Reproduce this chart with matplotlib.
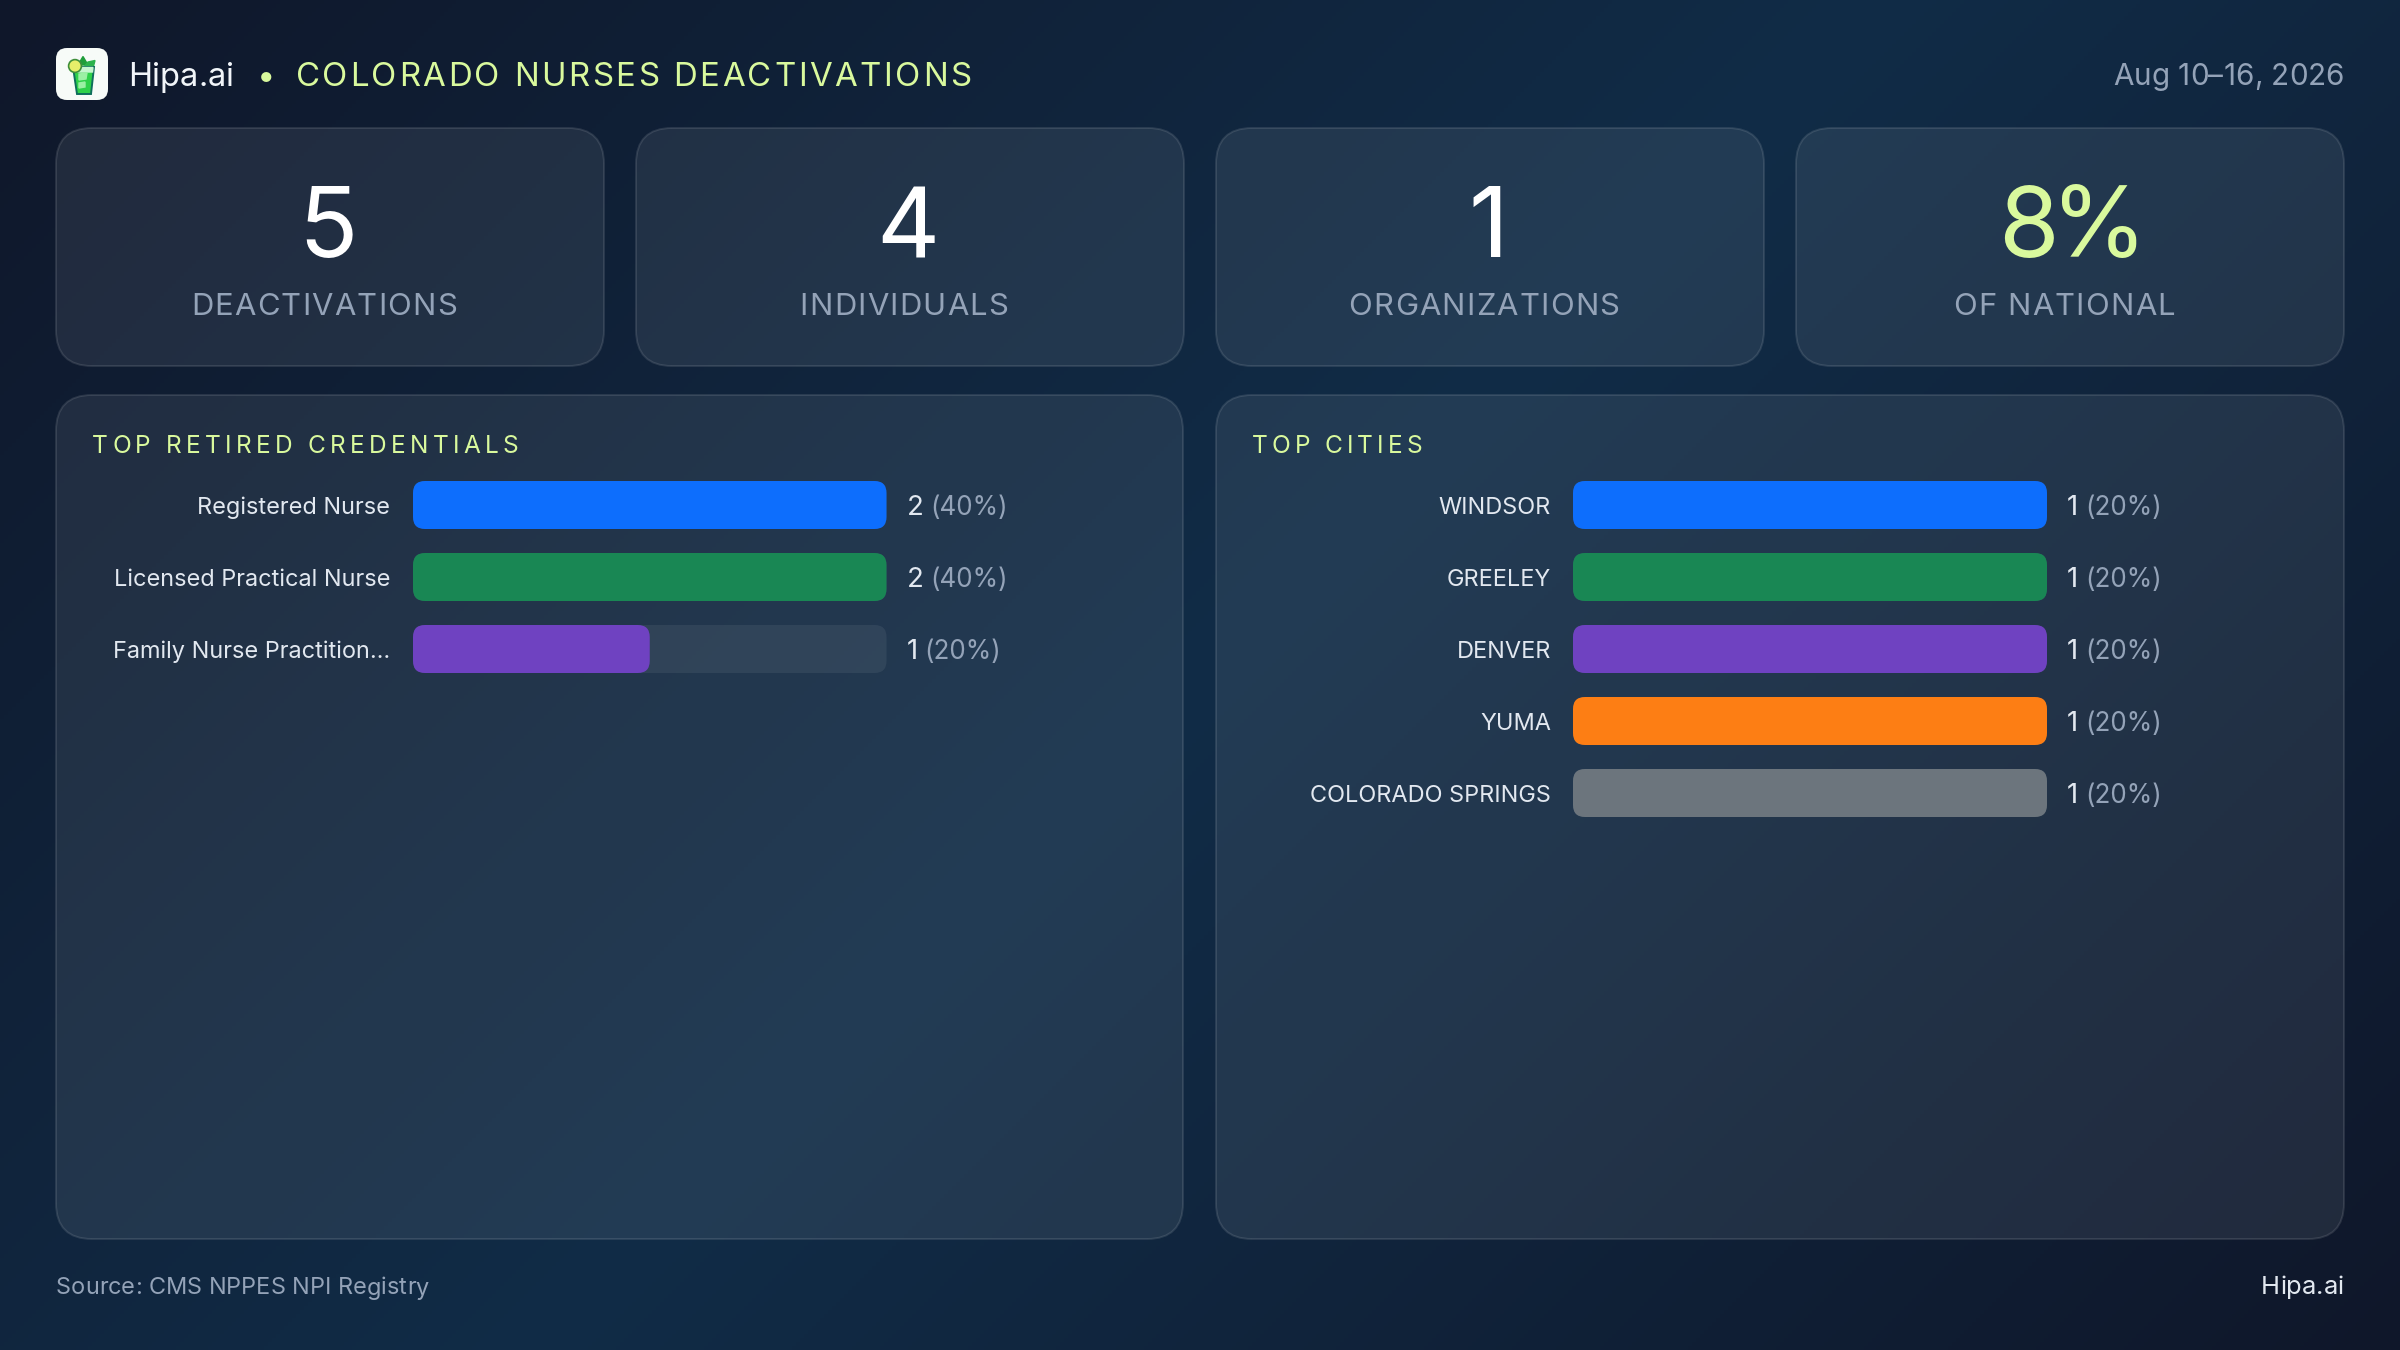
#!/usr/bin/env python3
"""Weekly deactivations dashboard card for Colorado nurses."""

import matplotlib

matplotlib.use("Agg")

import matplotlib.pyplot as plt
import numpy as np
from matplotlib.colors import LinearSegmentedColormap
from matplotlib.patches import Circle, FancyBboxPatch, Polygon
from matplotlib.text import Text
from matplotlib.transforms import IdentityTransform

W, H = 2400, 1350

KPI_VALUES = ["5", "4", "1", "8%"]
KPI_LABELS = ["DEACTIVATIONS", "INDIVIDUALS", "ORGANIZATIONS", "OF NATIONAL"]

CREDENTIALS = ["Registered Nurse", "Licensed Practical Nurse", "Family Nurse Practition…"]
CREDENTIAL_COUNTS = [2, 2, 1]
CREDENTIAL_PCTS = [40, 40, 20]

CITIES = ["WINDSOR", "GREELEY", "DENVER", "YUMA", "COLORADO SPRINGS"]
CITY_COUNTS = [1, 1, 1, 1, 1]
CITY_PCTS = [20, 20, 20, 20, 20]

BAR_COLORS = ["#0d6efd", "#198754", "#6f42c1", "#fd7e14", "#6c757d"]
LIME = "#d9f99d"
MUTED = "#94a3b8"
SOFT = "#e2e8f0"

plt.rcParams["font.family"] = ["Inter", "DejaVu Sans"]


def px(size):
    return size * 72 / 100


class TrackedText(Text):
    """Text with CSS style letter spacing, still one artist with one string."""

    def __init__(self, *args, tracking=0, **kwargs):
        super().__init__(*args, **kwargs)
        self.tracking = tracking

    def draw(self, renderer):
        text = self.get_text()
        x, y = self.get_transform().transform(self.get_position())
        props = self.get_fontproperties()
        width = lambda s: renderer.get_text_width_height_descent(s, props, False)[0]
        total = width(text) + self.tracking * len(text)
        start = {"left": x, "center": x - total / 2, "right": x - total}[self.get_ha()]
        old_pos, old_ha, old_tr = self.get_position(), self.get_ha(), self.get_transform()
        self.set_transform(IdentityTransform())
        self.set_ha("left")
        for i, ch in enumerate(text):
            if ch == " ":
                continue
            offset = width(text[: i + 1]) - width(ch) + self.tracking * i
            self._text = ch
            self.set_position((start + offset, y))
            Text.draw(self, renderer)
        self._text = text
        self.set_position(old_pos)
        self.set_ha(old_ha)
        self.set_transform(old_tr)


def panel(ax, x0, y0, x1, y1, radius=36):
    ax.add_patch(
        FancyBboxPatch(
            (x0, y0), x1 - x0, y1 - y0,
            boxstyle=f"round,pad=0,rounding_size={radius}",
            facecolor=(1, 1, 1, 0.08),
            edgecolor=(1, 1, 1, 0.11),
            linewidth=1.4,
        )
    )


def label(ax, x, y, text, size, color, ha="left", tracking=0):
    ax.add_artist(
        TrackedText(
            x, y, text, tracking=tracking, fontsize=px(size), color=color,
            ha=ha, va="baseline", transform=ax.transData,
        )
    )


def draw_logo(ax):
    ax.add_patch(
        FancyBboxPatch(
            (56, 48), 52, 52, boxstyle="round,pad=0,rounding_size=11",
            facecolor="#f7fbf8", edgecolor="none",
        )
    )
    ax.add_patch(Polygon([(78, 65), (83, 56.5), (88, 65)], color="#1f9d3a"))
    ax.add_patch(Polygon([(84, 67), (88, 62), (95, 60.5), (93, 68)], color="#2bb24c"))
    ax.add_patch(
        Polygon([(73, 67), (94, 67), (91, 94), (77, 94)], facecolor="#2fd14a", edgecolor="#0f6e5c", linewidth=1.4)
    )
    ax.add_patch(Polygon([(74, 67.5), (93, 67.5), (92.5, 72), (74.5, 72)], color="#c6f5cf"))
    ax.add_patch(Polygon([(79, 74), (87, 73), (86, 79), (79, 80)], color="#9bf0a4"))
    ax.add_patch(Polygon([(79, 83), (85, 82), (85, 87), (79, 88)], color="#9bf0a4"))
    ax.add_patch(Circle((75, 66), 6.4, facecolor="#e6ee6a", edgecolor="#3f8f3a", linewidth=1.2))


def draw_bars(fig, left, right, top, names, counts, pcts, gap):
    """One axes per chart, a row is 72 px tall and the bars are 48 px."""
    n = len(names)
    ax = fig.add_axes(
        [left / W, 1 - (top + 72 * n) / H, (right - left) / W, 72 * n / H],
        zorder=2,
    )
    ax.patch.set_alpha(0)
    for side in ax.spines.values():
        side.set_visible(False)
    ax.xaxis.set_visible(False)
    top_count = max(counts)
    ax.set_xlim(0, top_count)
    ax.set_ylim(n - 0.5, -0.5)
    rows = np.arange(n)
    ax.set_yticks(rows, names, fontsize=px(23.5), color=SOFT)
    ax.tick_params(axis="y", length=0, pad=px(gap))

    tracks = ax.barh(rows, [top_count] * n, height=48 / 72, color=(1, 1, 1, 0.065))
    fills = ax.barh(rows, counts, height=48 / 72, color=BAR_COLORS[:n])
    fig.canvas.draw()
    for bar in list(tracks) + list(fills):
        box = bar.get_window_extent()
        clip = FancyBboxPatch(
            (box.x0, box.y0), box.width, box.height,
            boxstyle="round,pad=0,rounding_size=12",
            transform=IdentityTransform(),
        )
        bar.set_clip_path(clip)

    for i in rows:
        count = ax.annotate(
            str(counts[i]), xy=(top_count, i), xytext=(20, -3),
            textcoords="offset pixels", fontsize=px(27.5), color=SOFT, va="center", ha="left",
        )
        ax.annotate(
            f"({pcts[i]}%)", xy=(1, 0), xycoords=count, xytext=(7, 0),
            textcoords="offset pixels", fontsize=px(26), color=MUTED, va="bottom", ha="left",
        )


def main():
    fig = plt.figure(figsize=(W / 100, H / 100), dpi=100)
    base = fig.add_axes([0, 0, 1, 1], zorder=0)
    base.set_xlim(0, W)
    base.set_ylim(H, 0)
    base.axis("off")

    # 135deg page gradient
    yy, xx = np.mgrid[0:H:4, 0:W:4]
    shade = (xx + yy) / (W + H)
    cmap = LinearSegmentedColormap.from_list("page", ["#0f172a", "#112c47", "#0f172a"])
    base.imshow(shade, cmap=cmap, vmin=0, vmax=1, extent=(0, W, H, 0), aspect="auto", zorder=0)

    draw_logo(base)
    label(base, 128, 86, "Hipa.ai", 32.5, "#f1f5f9")
    label(base, 257, 86, "•", 33, LIME)
    label(base, 295.5, 86, "COLORADO NURSES DEACTIVATIONS", 33, LIME, tracking=2.55)
    label(base, 2344, 85, "Aug 10–16, 2026", 29.7, MUTED, ha="right")

    card_left = [56, 636, 1216, 1796]
    for x0, value, text in zip(card_left, KPI_VALUES, KPI_LABELS):
        panel(base, x0, 128, x0 + 548, 366)
        is_share = value.endswith("%")
        color = LIME if is_share else "white"
        label(base, x0 + (273 if is_share else 269), 257, value, 98, color, ha="center", tracking=-8 if is_share else -6)
        label(base, x0 + 268.5, 315, text, 31, MUTED, ha="center", tracking=1.2)

    panel(base, 56, 395, 1183, 1239)
    panel(base, 1216, 395, 2344, 1239)
    label(base, 92, 453, "TOP RETIRED CREDENTIALS", 24.5, LIME, tracking=4.3)
    label(base, 1252, 453, "TOP CITIES", 24.5, LIME, tracking=4.0)

    draw_bars(fig, 413, 886.5, 469, CREDENTIALS, CREDENTIAL_COUNTS, CREDENTIAL_PCTS, 23)
    draw_bars(fig, 1573, 2047, 469, CITIES, CITY_COUNTS, CITY_PCTS, 22)

    label(base, 56, 1294.5, "Source: CMS NPPES NPI Registry", 23.5, MUTED)
    label(base, 2344, 1294, "Hipa.ai", 25.5, SOFT, ha="right")

    fig.savefig("out.png", dpi=100)
    plt.close(fig)


if __name__ == "__main__":
    main()
